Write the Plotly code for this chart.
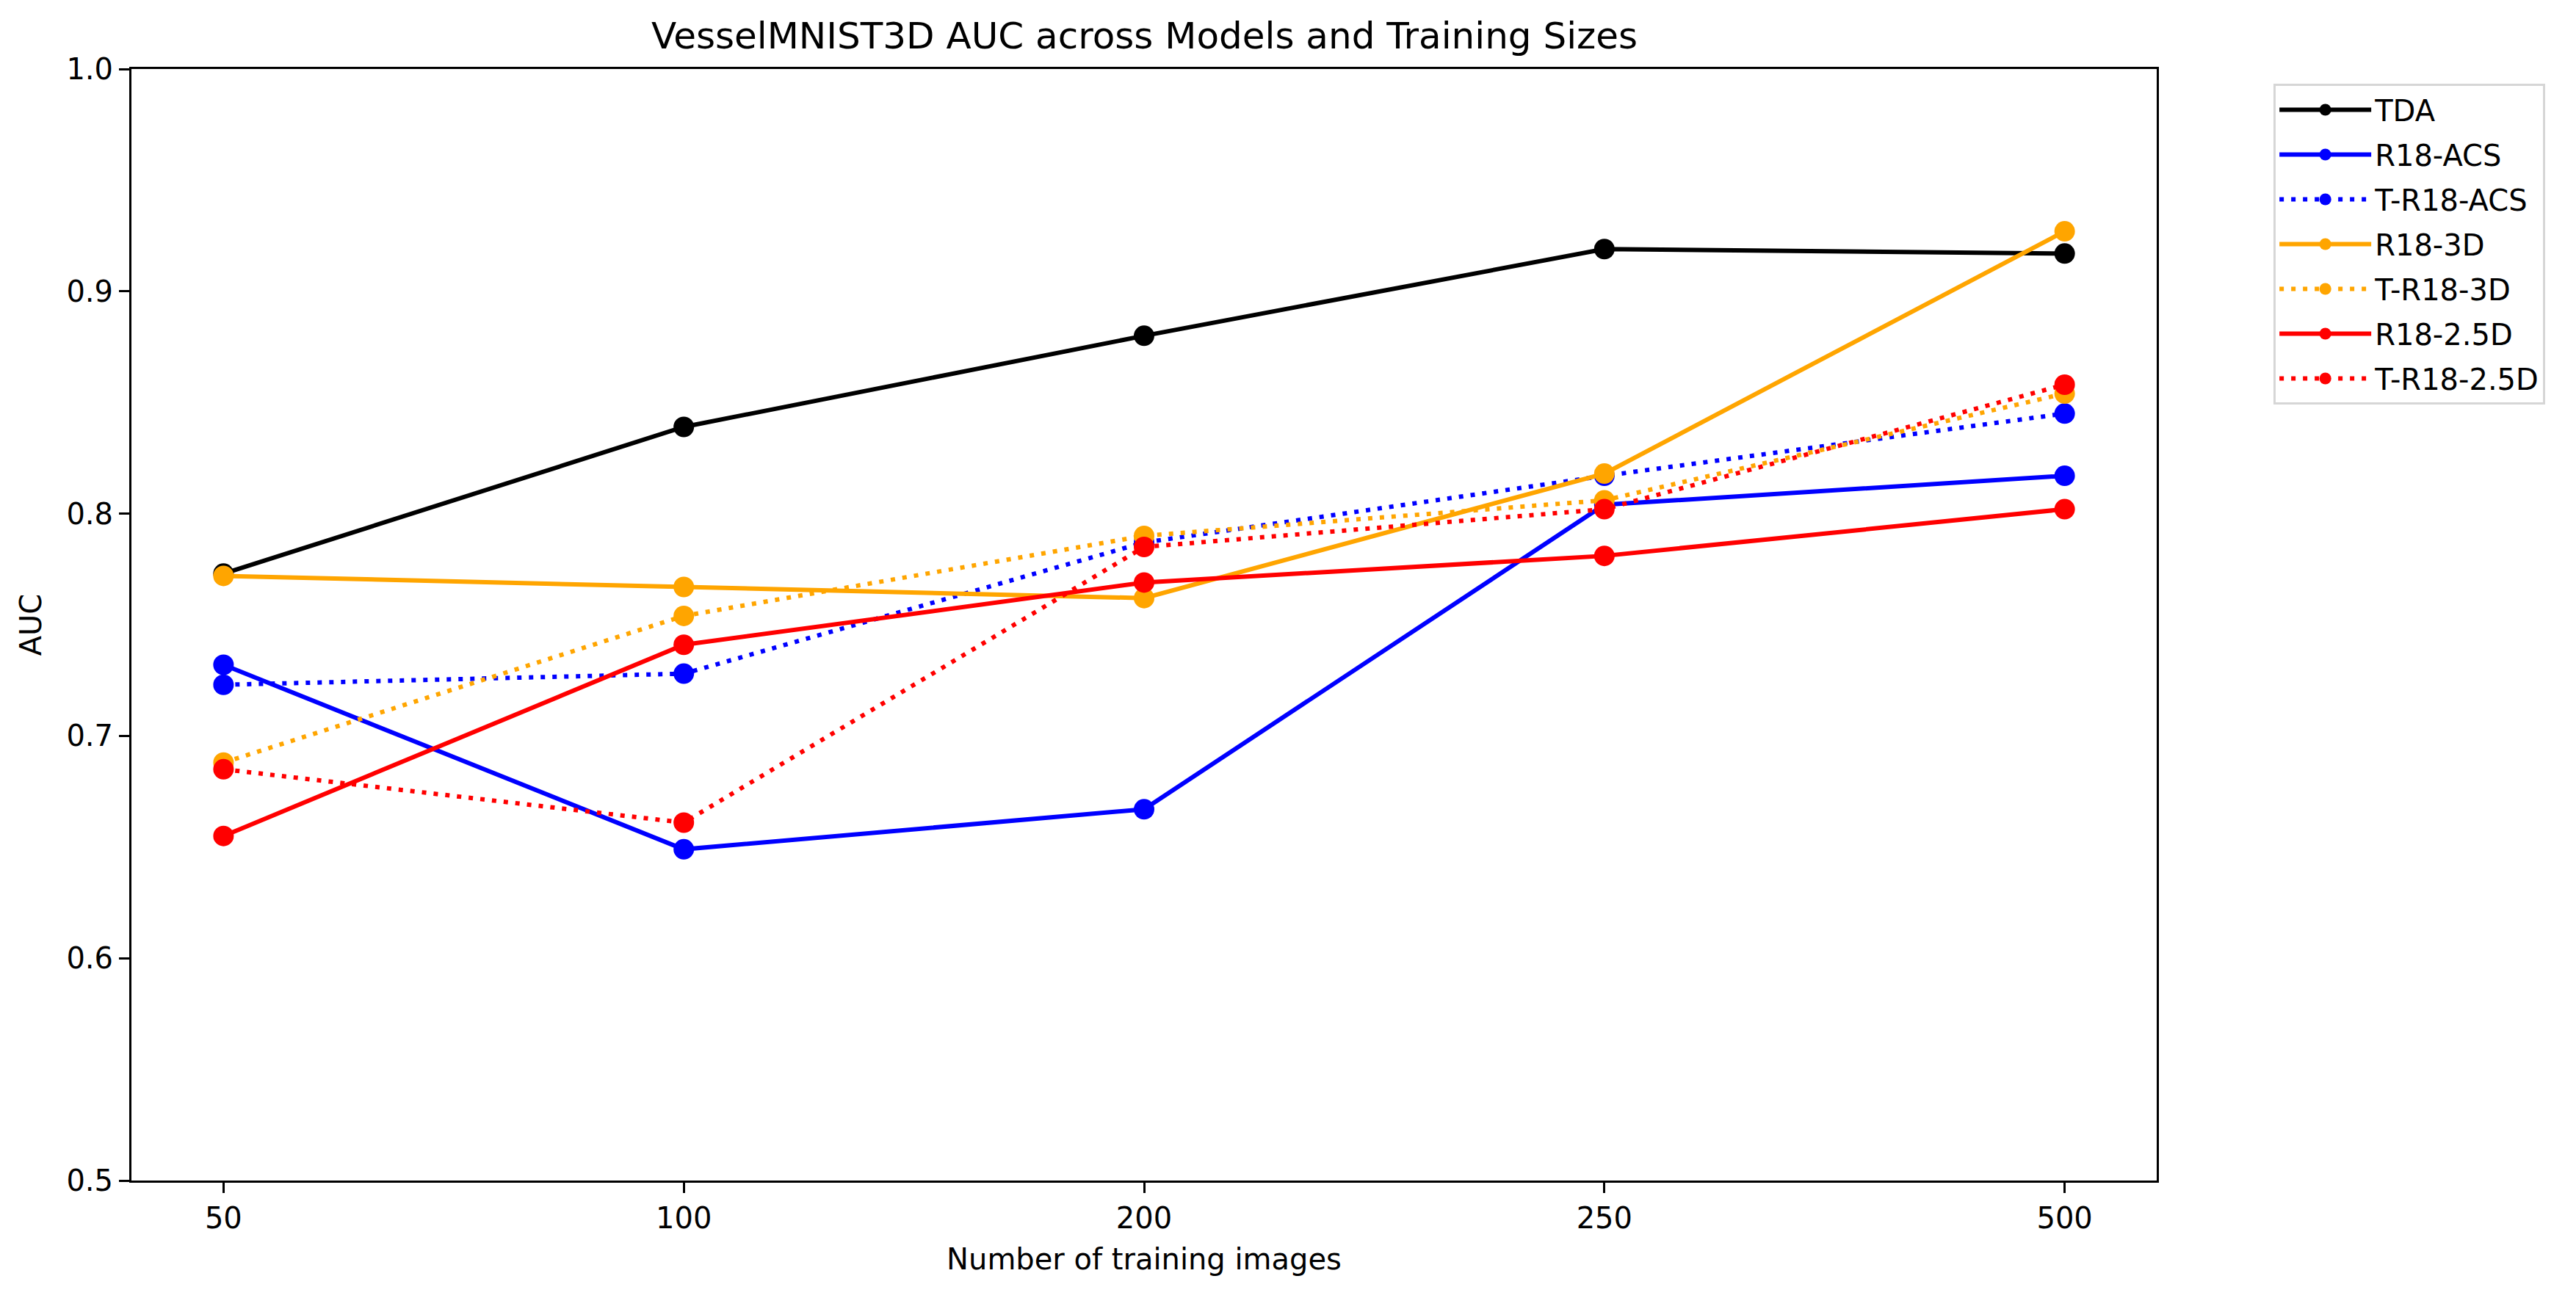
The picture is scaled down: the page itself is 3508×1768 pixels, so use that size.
import plotly.graph_objs as go

# training sizes on the x axis (treated as categories)
train_sizes = ["50", "100", "200", "250", "500"]

tda_auc = [0.773, 0.839, 0.880, 0.919, 0.917]
r18_acs_auc = [0.732, 0.649, 0.667, 0.804, 0.817]
t_r18_acs_auc = [0.723, 0.728, 0.787, 0.817, 0.845]
r18_3d_auc = [0.772, 0.767, 0.762, 0.818, 0.927]
t_r18_3d_auc = [0.688, 0.754, 0.790, 0.806, 0.854]
r18_25d_auc = [0.655, 0.741, 0.769, 0.781, 0.802]
t_r18_25d_auc = [0.685, 0.661, 0.785, 0.802, 0.858]

series_names = ["TDA", "R18-ACS", "T-R18-ACS", "R18-3D", "T-R18-3D", "R18-2.5D", "T-R18-2.5D"]

FONT = "DejaVu Sans"
DOTTED = "6px,10px"

styles = [
    ("black", "solid"),
    ("#0000ff", "solid"),
    ("#0000ff", DOTTED),
    ("#ffa500", "solid"),
    ("#ffa500", DOTTED),
    ("#ff0000", "solid"),
    ("#ff0000", DOTTED),
]
all_values = [tda_auc, r18_acs_auc, t_r18_acs_auc, r18_3d_auc, t_r18_3d_auc, r18_25d_auc, t_r18_25d_auc]

fig = go.Figure()
for name, vals, (col, dash) in zip(series_names, all_values, styles):
    fig.add_trace(go.Scatter(
        x=train_sizes, y=vals, name=name, legendgroup=name, mode="lines+markers",
        line=dict(color=col, width=6, dash=dash),
        marker=dict(color=col, size=28, line=dict(width=0)),
    ))

axis_common = dict(
    showline=True, linecolor="black", linewidth=3, mirror=True,
    ticks="outside", ticklen=14, tickwidth=3, tickcolor="black",
    showgrid=False, zeroline=False,
    tickfont=dict(family=FONT, size=40, color="black"),
)

# page body adds an 8px offset, so margins are shifted by that much
fig.update_layout(
    width=3508, height=1768,
    paper_bgcolor="white", plot_bgcolor="white",
    margin=dict(l=171, r=579, t=86, b=168),
    font=dict(family=FONT, color="black"),
    title=dict(text="VesselMNIST3D AUC across Models and Training Sizes",
               x=0.442, xanchor="center", y=0.977, yanchor="middle",
               font=dict(family=FONT, size=50, color="black")),
    xaxis=dict(type="category", range=[-0.2, 4.2],
               title=dict(text="Number of training images", standoff=20,
                          font=dict(family=FONT, size=40, color="black")),
               **axis_common),
    yaxis=dict(range=[0.5, 1.0], dtick=0.1, tickformat=".1f",
               title=dict(text="AUC", standoff=22,
                          font=dict(family=FONT, size=40, color="black")),
               **axis_common),
    legend=dict(x=1.0577, y=0.9868, xanchor="left", yanchor="top",
                bgcolor="white", bordercolor="#d6d6d6", borderwidth=3,
                font=dict(family=FONT, size=40, color="black"),
                traceorder="grouped", tracegroupgap=6, itemwidth=125),
    showlegend=True,
)

fig.write_html("out.html")
